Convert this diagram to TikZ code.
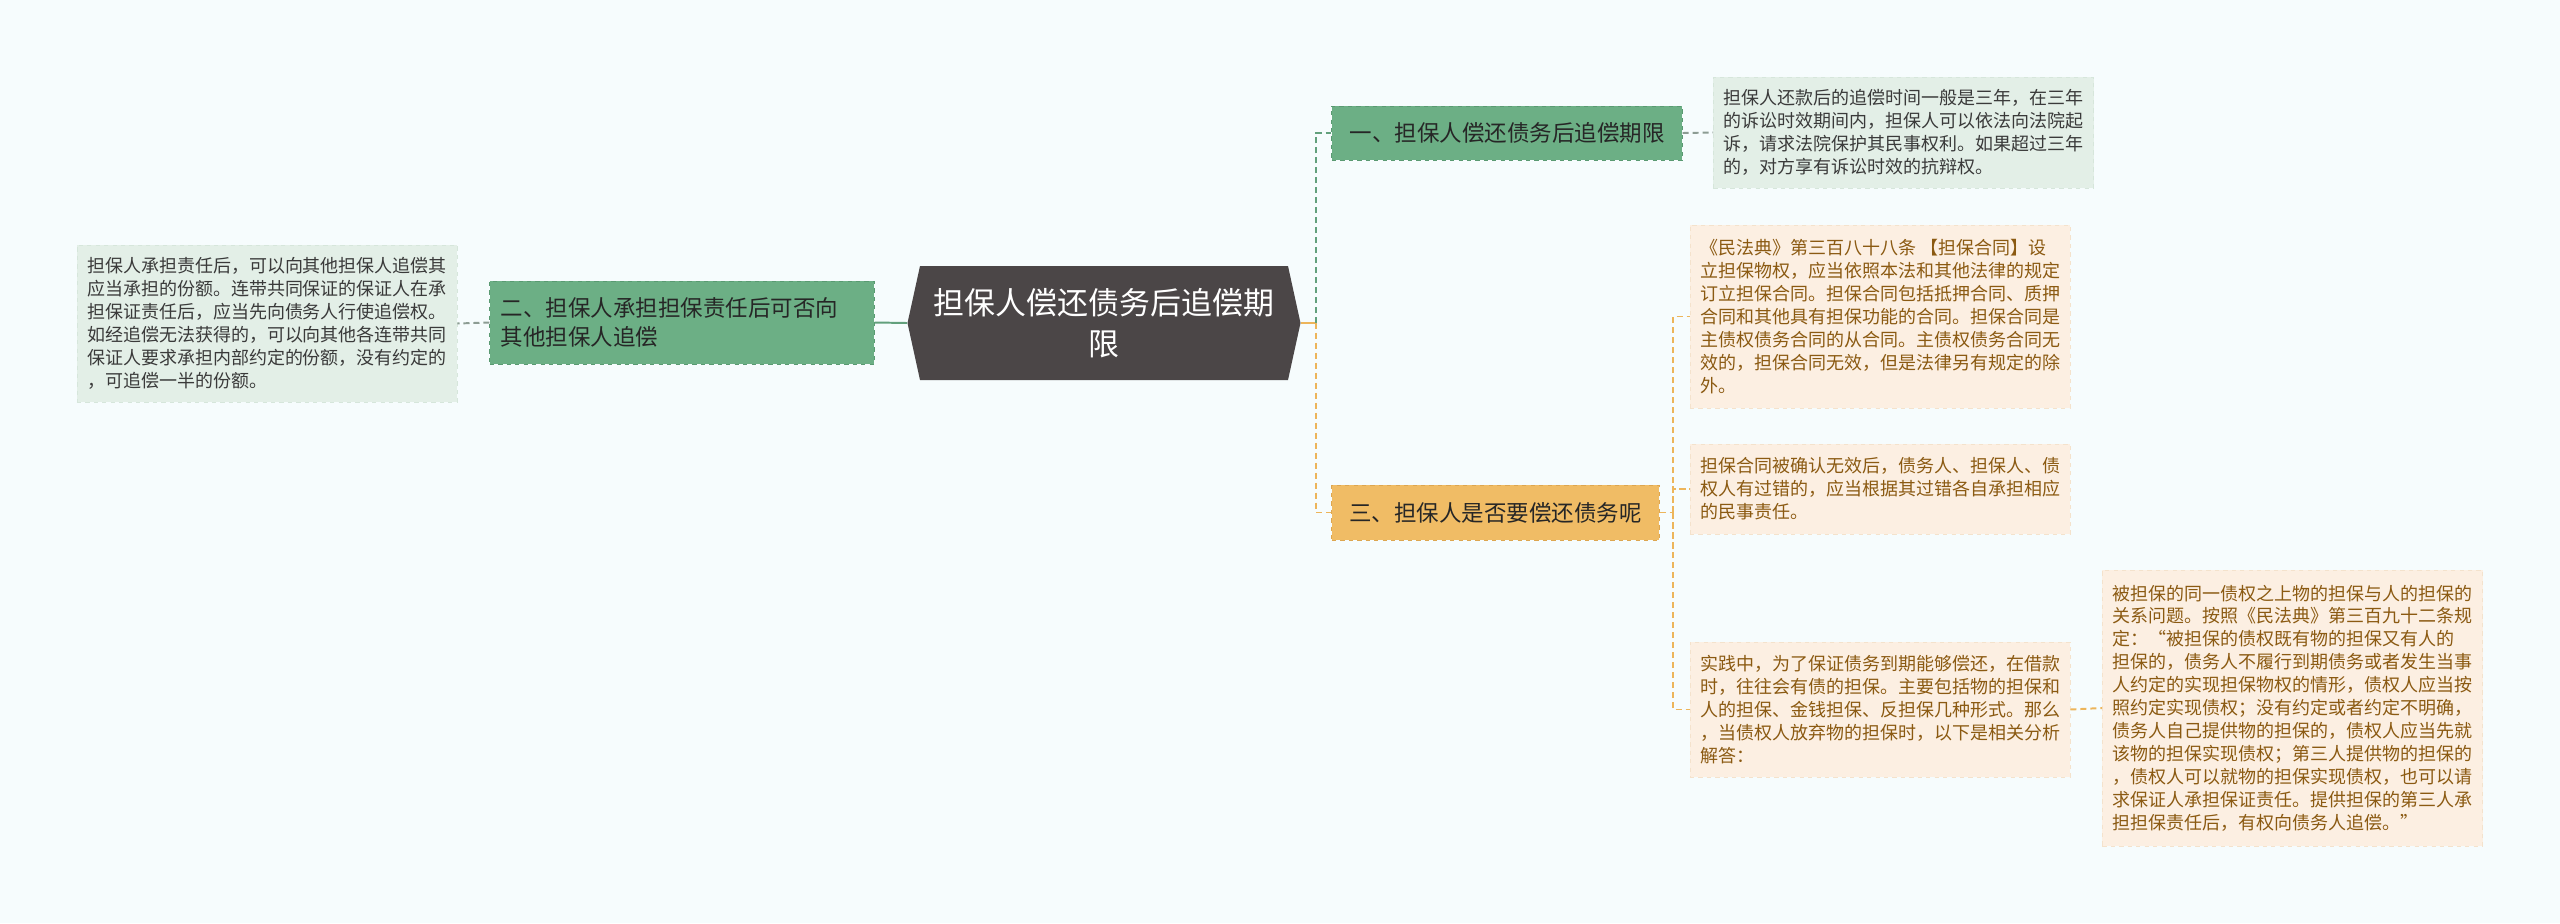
\documentclass[tikz,border=0pt]{standalone}
\usepackage{fontspec}
\newfontfamily\cjk{Noto Sans CJK SC}
\usetikzlibrary{positioning}

\definecolor{bgcol}{HTML}{F6FCFD}
\definecolor{rootfill}{HTML}{4B4647}
\definecolor{greenfill}{HTML}{6CAF85}
\definecolor{greenedge}{HTML}{5A9A72}
\definecolor{leafgreen}{HTML}{E3EFE7}
\definecolor{leafgreenedge}{HTML}{D6E6DB}
\definecolor{orangefill}{HTML}{F0BC65}
\definecolor{orangeedge}{HTML}{DDA650}
\definecolor{leaforange}{HTML}{FCEFE2}
\definecolor{leaforangeedge}{HTML}{F4E2CC}
\definecolor{branchtext}{HTML}{262626}
\definecolor{leaftext}{HTML}{3A3A3A}
\definecolor{browntext}{HTML}{8B5A12}
\definecolor{linkgreen}{HTML}{62A07C}
\definecolor{linkorange}{HTML}{EDB55A}
\definecolor{linkgray}{HTML}{8C9C93}

\tikzset{
  box/.style={font=\cjk, align=left, inner sep=0pt},
  rootbox/.style={box, align=center, text=white, font=\cjk\fontsize{22}{29}\selectfont,
    minimum width=9.825cm, minimum height=2.85cm},
  branch/.style={box, font=\cjk\fontsize{16}{20.5}\selectfont, text=branchtext, draw, dashed, line width=0.7pt},
  greenbranch/.style={branch, fill=greenfill, draw=greenedge},
  orangebranch/.style={branch, fill=orangefill, draw=orangeedge},
  leaf/.style={box, font=\cjk\fontsize{12.8}{16.3}\selectfont, draw, dashed, line width=0.5pt, minimum width=9.5cm},
  greenleaf/.style={leaf, fill=leafgreen, draw=leafgreenedge, text=leaftext},
  orangeleaf/.style={leaf, fill=leaforange, draw=leaforangeedge, text=browntext},
  link/.style={line width=1.4pt, dash pattern=on 4.3pt off 2.8pt},
}

\begin{document}
\begin{tikzpicture}[x=0.025cm,y=-0.025cm]
  \fill[bgcol] (0,0) rectangle (2560,923);
  \useasboundingbox (0,0) rectangle (2560,923);

  \fill[rootfill] (907.5,323) -- (920,266) -- (1288,266) -- (1300.5,323) -- (1288,380) -- (920,380) -- cycle;
  \node[rootbox] (root) at (1104,323) {担保人偿还债务后追偿期\\限};

  \node[greenbranch, minimum width=8.75cm, minimum height=1.35cm] (b1) at (1507,133) {一、担保人偿还债务后追偿期限};
  \node[greenbranch, minimum width=9.6cm, minimum height=2.075cm, text width=9.05cm] (b2) at (682,322.5) {二、担保人承担担保责任后可否向\\其他担保人追偿};
  \node[orangebranch, minimum width=8.175cm, minimum height=1.375cm] (b3) at (1495.5,512.5) {三、担保人是否要偿还债务呢};

  \node[greenleaf, minimum height=2.775cm] (l1) at (1903.5,132.5) {担保人还款后的追偿时间一般是三年，在三年\\的诉讼时效期间内，担保人可以依法向法院起\\诉，请求法院保护其民事权利。如果超过三年\\的，对方享有诉讼时效的抗辩权。};
  \node[greenleaf, minimum height=3.925cm] (l2) at (267,323.5) {担保人承担责任后，可以向其他担保人追偿其\\应当承担的份额。连带共同保证的保证人在承\\担保证责任后，应当先向债务人行使追偿权。\\如经追偿无法获得的，可以向其他各连带共同\\保证人要求承担内部约定的份额，没有约定的\\，可追偿一半的份额。};

  \node[orangeleaf, minimum height=4.575cm] (l3a) at (1880,316.5) {《民法典》第三百八十八条 【担保合同】设\\立担保物权，应当依照本法和其他法律的规定\\订立担保合同。担保合同包括抵押合同、质押\\合同和其他具有担保功能的合同。担保合同是\\主债权债务合同的从合同。主债权债务合同无\\效的，担保合同无效，但是法律另有规定的除\\外。};
  \node[orangeleaf, minimum height=2.25cm] (l3b) at (1880,489) {担保合同被确认无效后，债务人、担保人、债\\权人有过错的，应当根据其过错各自承担相应\\的民事责任。};
  \node[orangeleaf, minimum height=3.375cm] (l3c) at (1880,709.5) {实践中，为了保证债务到期能够偿还，在借款\\时，往往会有债的担保。主要包括物的担保和\\人的担保、金钱担保、反担保几种形式。那么\\，当债权人放弃物的担保时，以下是相关分析\\解答：};
  \node[orangeleaf, minimum height=6.9cm] (l3c1) at (2292.5,708) {被担保的同一债权之上物的担保与人的担保的\\关系问题。按照《民法典》第三百九十二条规\\定：“被担保的债权既有物的担保又有人的\\担保的，债务人不履行到期债务或者发生当事\\人约定的实现担保物权的情形，债权人应当按\\照约定实现债权；没有约定或者约定不明确，\\债务人自己提供物的担保的，债权人应当先就\\该物的担保实现债权；第三人提供物的担保的\\，债权人可以就物的担保实现债权，也可以请\\求保证人承担保证责任。提供担保的第三人承\\担担保责任后，有权向债务人追偿。”};

  \coordinate (rtrunk) at (1316,323);
  \coordinate (otrunk) at (1673,512.5);

  \draw[linkorange, line width=1.4pt] (root.east) -- (rtrunk);
  \draw[link, linkgreen] (rtrunk) |- (b1.west);
  \draw[link, linkorange] (rtrunk) |- (b3.west);
  \draw[linkgreen, line width=1.4pt] (root.west) -- (b2.east);
  \draw[link, linkgray] (b2.west) -- (l2.east);
  \draw[link, linkgray] (b1.east) -- (l1.west);
  \draw[link, linkorange] (b3.east) -- (otrunk);
  \foreach \leaf in {l3a,l3b,l3c} \draw[link, linkorange] (otrunk) |- (\leaf.west);
  \draw[link, linkorange] (l3c.east) -- (l3c1.west);
\end{tikzpicture}
\end{document}
